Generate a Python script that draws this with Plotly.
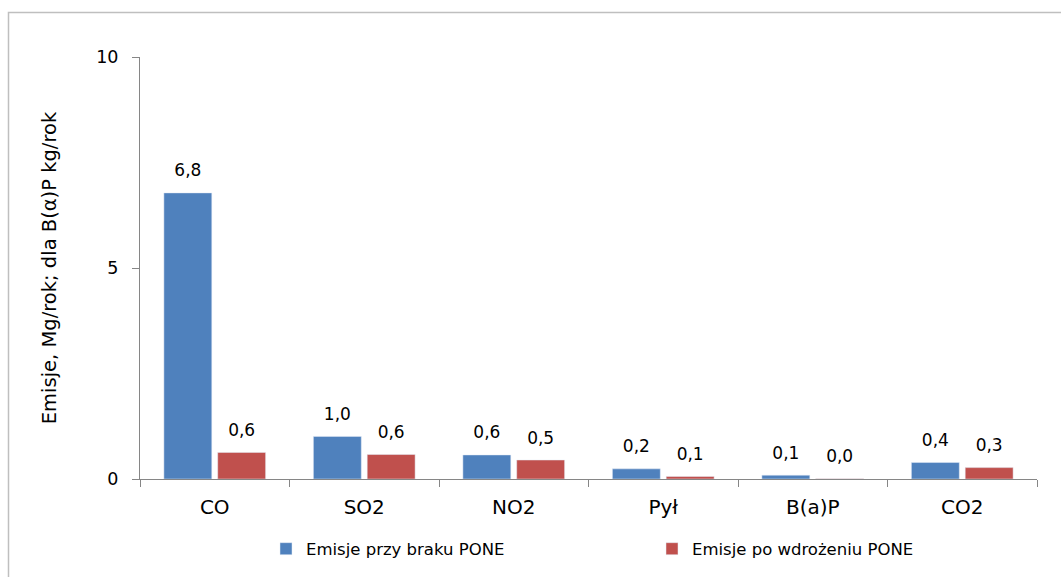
import plotly.graph_objects as go

categories = ["CO", "SO2", "NO2", "Pył", "B(a)P", "CO2"]
series_names = ["Emisje przy braku PONE", "Emisje po wdrożeniu PONE"]
before = [6.78, 1.01, 0.57, 0.24, 0.09, 0.39]
after = [0.63, 0.58, 0.45, 0.06, 0.004, 0.27]
y_ticks = [0, 5, 10]
y_title = "Emisje, Mg/rok; dla B(α)P kg/rok"

colors = ["#4F81BD", "#C0504D"]
FONT = "DejaVu Sans"

fig = go.Figure()
for name, vals, col, grp in zip(series_names, [before, after], colors, ["a", "b"]):
    fig.add_trace(go.Bar(
        x=categories, y=vals, name=name, marker_color=col,
        offsetgroup=grp, hoverinfo="skip",
    ))
for name, vals, grp in zip(series_names, [before, after], ["a", "b"]):
    fig.add_trace(go.Scatter(
        x=categories, y=vals, mode="text+markers", offsetgroup=grp,
        marker=dict(size=18, opacity=0),
        text=[f"{v:.1f}".replace(".", ",") for v in vals],
        textposition="top center",
        textfont=dict(family=FONT, size=17, color="#000000"),
        showlegend=False, hoverinfo="skip", cliponaxis=False,
    ))

fig.update_layout(
    width=1061, height=577,
    margin=dict(l=140, r=24, t=57, b=97),
    paper_bgcolor="white", plot_bgcolor="white",
    font=dict(family=FONT, color="#000000"),
    barmode="group", bargap=0.28, bargroupgap=0.11,
    scattermode="group", scattergap=0.28,
    showlegend=True,
    legend=dict(
        orientation="h", x=(266 - 140) / 897, xanchor="left",
        y=-0.163, yanchor="middle",
        entrywidth=341, entrywidthmode="pixels",
        font=dict(family=FONT, size=16.5, color="#000000"),
        traceorder="normal",
    ),
    xaxis=dict(
        showline=True, linecolor="#868686", linewidth=1,
        ticks="outside", tickson="boundaries", ticklen=7, tickcolor="#868686",
        tickfont=dict(family=FONT, size=20, color="#000000"),
        ticklabelstandoff=10,
        showgrid=False, zeroline=False,
    ),
    yaxis=dict(
        range=[0, 10], tickvals=y_ticks,
        showline=True, linecolor="#868686", linewidth=1,
        ticks="outside", ticklen=7, tickcolor="#868686",
        tickfont=dict(family=FONT, size=17.5, color="#000000"),
        ticklabelstandoff=10,
        showgrid=False, zeroline=False,
        title=dict(text=y_title, font=dict(family=FONT, size=19.5, color="#000000"), standoff=34),
        automargin=True,
    ),
    shapes=[dict(
        type="rect", xref="paper", yref="paper",
        x0=(8.5 - 140) / 897, x1=1.2, y0=-0.5, y1=(480 - 12.5) / 423,
        line=dict(color="#BFBFBF", width=1.5), fillcolor="rgba(0,0,0,0)", layer="below",
    )],
)

fig.write_html("out.html", config={"displayModeBar": False},
               post_script="document.body.style.margin='0';")
